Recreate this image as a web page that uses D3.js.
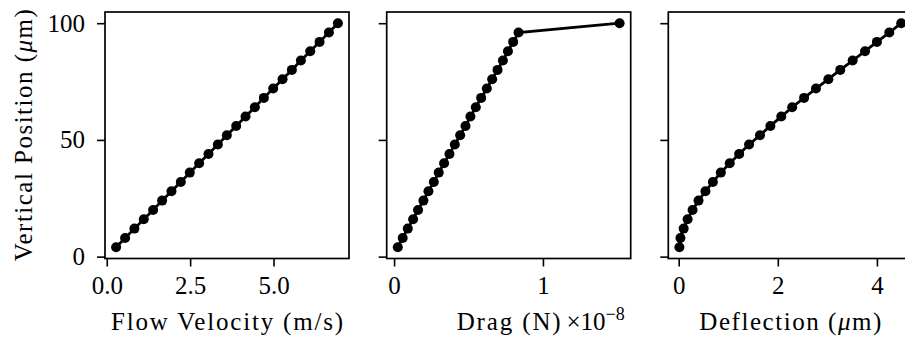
<!DOCTYPE html>
<html>
<head>
<meta charset="utf-8">
<script src="https://cdn.jsdelivr.net/npm/d3@7"></script>
<style>
  body { margin: 0; background: #fff; }
  text { font-family: "Liberation Serif", "DejaVu Serif", serif; fill: #000; }
</style>
</head>
<body>
<svg id="chart"></svg>
<script>
// vertical positions (um), shared by all three panels
var positions = [4, 8, 12, 16, 20, 24, 28, 32, 36, 40, 44, 48, 52, 56, 60, 64, 68, 72, 76, 80, 84, 88, 92, 96, 100];
// flow velocity (m/s)
var velocity = [0.28, 0.55, 0.83, 1.11, 1.39, 1.66, 1.94, 2.22, 2.49, 2.77, 3.05, 3.33, 3.60,
  3.88, 4.16, 4.44, 4.71, 4.99, 5.27, 5.55, 5.82, 6.10, 6.38, 6.66, 6.93];
// drag (N), in units of 1e-8
var drag = [0.025, 0.058, 0.092, 0.128, 0.161, 0.197, 0.231, 0.267, 0.300, 0.336, 0.372, 0.408, 0.444,
  0.480, 0.513, 0.549, 0.585, 0.623, 0.659, 0.695, 0.731, 0.765, 0.800, 0.836, 1.515];
// deflection (um)
var deflection = [0.014, 0.035, 0.10, 0.18, 0.28, 0.40, 0.54, 0.69, 0.85, 1.03, 1.22, 1.42, 1.64,
  1.85, 2.07, 2.29, 2.53, 2.77, 3.02, 3.26, 3.51, 3.76, 4.00, 4.25, 4.49];

var yTicks = [0, 50, 100];
var xTicks1 = [0, 2.5, 5.0];
var xTicks2 = [0, 1];
var xTicks3 = [0, 2, 4];

var width = 905, height = 343;
var fontSize = 25;
var plotTop = 12, plotBottom = 258.5, panelW = 244;
var lefts = [105, 386.7, 668.3];

var svg = d3.select('#chart').attr('width', width).attr('height', height);

function padded(values) {
  var ext = d3.extent(values);
  var pad = (ext[1] - ext[0]) * 0.05;
  return [ext[0] - pad, ext[1] + pad];
}

var y = d3.scaleLinear().domain(padded(positions)).range([plotBottom, plotTop]);

var panels = [
  { x: velocity, ticks: xTicks1, fmt: d3.format('.1f'), label: 'Flow Velocity (m/s)', len: 232 },
  { x: drag, ticks: xTicks2, fmt: d3.format('d'), label: 'Drag (N)', len: 104 },
  { x: deflection, ticks: xTicks3, fmt: d3.format('d'), label: 'Deflection (', len: 182 }
];

panels.forEach(function(p, i) {
  var left = lefts[i];
  var x = d3.scaleLinear().domain(padded(p.x)).range([left, left + panelW]);
  var g = svg.append('g');

  // line + markers
  var pts = positions.map(function(v, k) { return [p.x[k], v]; });
  g.append('path')
    .datum(pts)
    .attr('d', d3.line().x(function(d) { return x(d[0]); }).y(function(d) { return y(d[1]); }))
    .attr('fill', 'none')
    .attr('stroke', '#000')
    .attr('stroke-width', 2.8);
  g.selectAll('circle')
    .data(pts)
    .enter()
    .append('circle')
    .attr('cx', function(d) { return x(d[0]); })
    .attr('cy', function(d) { return y(d[1]); })
    .attr('r', 5)
    .attr('fill', '#000');

  // frame
  g.append('rect')
    .attr('x', left).attr('y', plotTop)
    .attr('width', panelW).attr('height', plotBottom - plotTop)
    .attr('fill', 'none').attr('stroke', '#000').attr('stroke-width', 1.7);

  // x axis
  var xAxis = d3.axisBottom(x).tickValues(p.ticks).tickFormat(p.fmt).tickSize(8).tickPadding(10);
  var xg = g.append('g').attr('transform', 'translate(0,' + plotBottom + ')').call(xAxis);
  xg.select('.domain').remove();
  xg.selectAll('line').attr('stroke-width', 1.6);
  xg.selectAll('text').attr('font-size', fontSize).attr('font-family', null).attr('dy', '0.71em');

  // y axis
  var yAxis = d3.axisLeft(y).tickValues(yTicks).tickSize(8).tickPadding(12);
  var yg = g.append('g').attr('transform', 'translate(' + left + ',0)').call(yAxis);
  yg.select('.domain').remove();
  yg.selectAll('line').attr('stroke-width', 1.6);
  yg.selectAll('text').attr('font-size', fontSize).attr('font-family', null);
  if (i > 0) yg.selectAll('text').remove();

  // x label
  var lab = g.append('text')
    .attr('x', left + panelW / 2)
    .attr('y', 330)
    .attr('text-anchor', 'middle')
    .attr('font-size', fontSize)
    .attr('textLength', p.len)
    .attr('lengthAdjust', 'spacing')
    .text(p.label);
  if (i === 2) {
    lab.append('tspan').attr('font-style', 'italic').text('\u03bc');
    lab.append('tspan').text('m)');
  }
  if (i === 1) {
    var off = g.append('text')
      .attr('x', left + panelW - 6)
      .attr('y', 330)
      .attr('text-anchor', 'end')
      .attr('font-size', fontSize);
    off.append('tspan').text('\u00d710');
    off.append('tspan').attr('font-size', 18).attr('dy', -10).text('\u22128');
  }
});

// y label
var ylab = svg.append('text')
  .attr('transform', 'translate(32,' + ((plotTop + plotBottom) / 2) + ') rotate(-90)')
  .attr('text-anchor', 'middle')
  .attr('font-size', fontSize)
  .attr('textLength', 252)
  .attr('lengthAdjust', 'spacing')
  .text('Vertical Position (');
ylab.append('tspan').attr('font-style', 'italic').text('\u03bc');
ylab.append('tspan').text('m)');
</script>
</body>
</html>
